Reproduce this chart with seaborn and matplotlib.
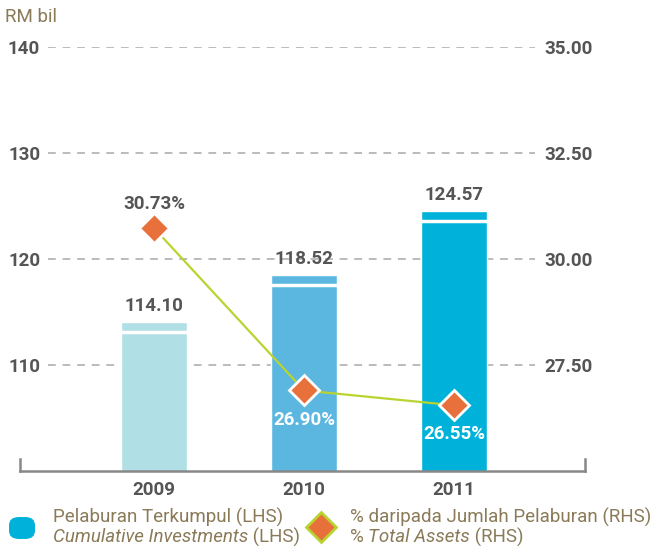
import matplotlib
matplotlib.use("Agg")
import matplotlib.pyplot as plt
import seaborn as sns
from matplotlib.lines import Line2D
from matplotlib.patches import FancyBboxPatch

# data
years = ["2009", "2010", "2011"]
investments = [114.10, 118.52, 124.57]          # RM bil (LHS)
pct_assets = [30.73, 26.90, 26.55]              # % (RHS)
bar_colors = ["#b0dfe5", "#5bb7e0", "#00b2d9"]
left_ticks = [110, 120, 130, 140]
right_ticks = [27.5, 30.0, 32.5, 35.0]

sns.set_theme(style="white")
plt.rcParams["font.family"] = ["Roboto", "DejaVu Sans"]

dark = "#555555"
legend_col = "#8a7a58"
lab_fs = 13.5

fig = plt.figure(figsize=(6.62, 5.49), dpi=100)
ax = fig.add_axes([20 / 662, 1 - 471 / 549, 565 / 662, 424 / 549])

df_bar = {"year": years, "value": investments}
sns.barplot(x="year", y="value", hue="year", data=df_bar, palette=bar_colors,
            width=0.44, legend=False, ax=ax, saturation=1)
ax.set_xlim(-0.893, 2.873)
ax.set_ylim(100, 140)

# white stripe near top of each bar
for i, v in enumerate(investments):
    ax.hlines(v - 1.0, i - 0.22, i + 0.22, color="white", lw=2.5, zorder=3)
    ax.annotate(f"{v:.2f}", (i, v), xytext=(0, 5), textcoords="offset points",
                ha="center", va="bottom", fontsize=lab_fs, fontweight="bold", color=dark)

# dashed gridlines
for t in left_ticks:
    ax.plot([0.05, 0.911], [t, t], transform=ax.get_yaxis_transform(),
            color="#bbbbbb", lw=1.4, ls=(0, (4, 3.5)), zorder=0)

ax.set_yticks(left_ticks)
ax.set_yticklabels([str(t) for t in left_ticks])
ax.tick_params(axis="y", length=0, pad=-14.5, labelsize=lab_fs, labelcolor=dark)
for lbl in ax.get_yticklabels():
    lbl.set_fontweight("bold")
ax.tick_params(axis="x", length=0, pad=7, labelsize=lab_fs, labelcolor=dark)
for lbl in ax.get_xticklabels():
    lbl.set_fontweight("bold")
ax.set_xlabel("")
ax.set_ylabel("")

for s in ["top", "right"]:
    ax.spines[s].set_visible(False)
ax.spines["bottom"].set_color("#888888")
ax.spines["bottom"].set_linewidth(1.8)
ax.spines["left"].set_color("#888888")
ax.spines["left"].set_linewidth(1.8)
ax.spines["left"].set_bounds(100, 101.1)

# right axis: percentage line
ax2 = ax.twinx()
sns.lineplot(x=[0, 1, 2], y=pct_assets, ax=ax2, color="#b9d431", lw=1.6,
             marker="D", markersize=15, markerfacecolor="#e8703a",
             markeredgecolor="white", markeredgewidth=2, zorder=5)
ax2.set_ylim(25, 35)
ax2.set_yticks(right_ticks)
ax2.set_yticklabels([f"{t:.2f}" for t in right_ticks])
ax2.tick_params(axis="y", length=0, pad=-29, labelsize=lab_fs, labelcolor=dark)
for lbl in ax2.get_yticklabels():
    lbl.set_fontweight("bold")
ax2.set_ylabel("")
for s in ["top", "left", "bottom"]:
    ax2.spines[s].set_visible(False)
ax2.spines["right"].set_color("#888888")
ax2.spines["right"].set_linewidth(1.8)
ax2.spines["right"].set_bounds(25, 25.28)

offsets = [(0, 17), (0, -21), (0, -21)]
label_cols = [dark, "white", "white"]
for i, (p, off, c) in enumerate(zip(pct_assets, offsets, label_cols)):
    ax2.annotate(f"{p:.2f}%", (i, p), xytext=off, textcoords="offset points",
                 ha="center", va="center", fontsize=lab_fs, fontweight="bold", color=c,
                 zorder=6)

# unit label
fig.text(5 / 662, 1 - 17 / 549, "RM bil", fontsize=13.5, color=legend_col, va="center")

# legend
fig.patches.append(FancyBboxPatch((9 / 662, 1 - 539 / 549), 26 / 662, 22 / 549,
                                  boxstyle="round,pad=0,rounding_size=0.015",
                                  transform=fig.transFigure, facecolor="#00b2d9",
                                  edgecolor="none"))
fig.lines.append(Line2D([321 / 662], [1 - 527 / 549], transform=fig.transFigure,
                        marker="D", markersize=15, markerfacecolor="#e8703a",
                        markeredgecolor="#b9d431", markeredgewidth=2))

fs = 13.5
fig.text(53 / 662, 1 - 517 / 549, "Pelaburan Terkumpul (LHS)", fontsize=fs,
         color=legend_col, va="center")
t1 = fig.text(53 / 662, 1 - 537 / 549, "Cumulative Investments", fontsize=fs,
              color=legend_col, va="center", style="italic")
ax.annotate(" (LHS)", xy=(1, 0.5), xycoords=t1, va="center", ha="left",
            fontsize=fs, color=legend_col, annotation_clip=False)

fig.text(350 / 662, 1 - 517 / 549, "% daripada Jumlah Pelaburan (RHS)", fontsize=fs,
         color=legend_col, va="center")
t2 = fig.text(350 / 662, 1 - 537 / 549, "% ", fontsize=fs, color=legend_col, va="center")
t3 = ax.annotate("Total Assets", xy=(1, 0.5), xycoords=t2, va="center", ha="left",
                 fontsize=fs, color=legend_col, style="italic", annotation_clip=False)
ax.annotate(" (RHS)", xy=(1, 0.5), xycoords=t3, va="center", ha="left",
            fontsize=fs, color=legend_col, annotation_clip=False)

fig.savefig("out.png", dpi=100)
